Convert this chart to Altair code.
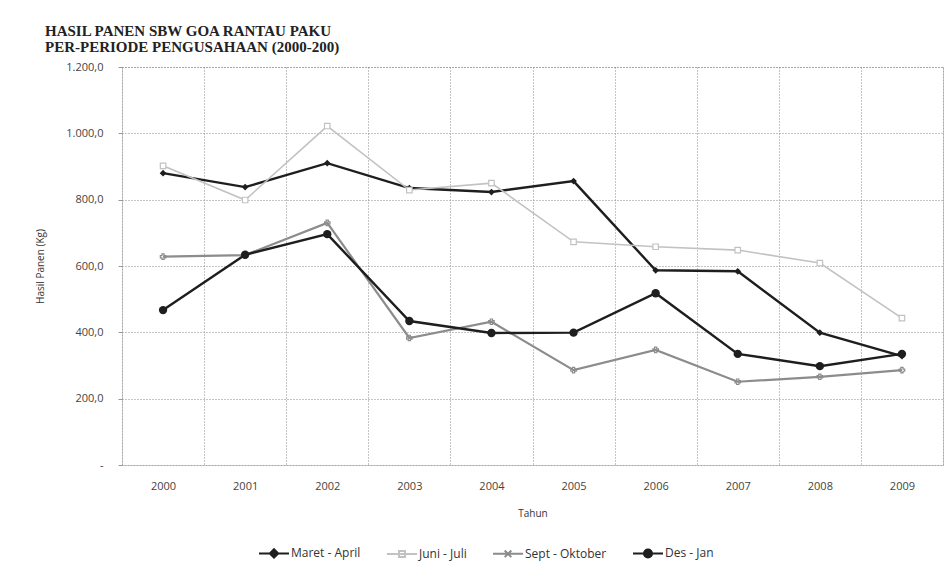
import altair as alt
import pandas as pd

years = ["2000", "2001", "2002", "2003", "2004", "2005", "2006", "2007", "2008", "2009"]
series_names = ["Maret - April", "Juni - Juli", "Sept - Oktober", "Des - Jan"]
maret_april = [880, 838, 910, 835, 823, 856, 587, 584, 399, 328]
juni_juli = [902, 799, 1022, 829, 850, 673, 658, 648, 609, 443]
sept_oktober = [628, 633, 730, 383, 432, 286, 347, 251, 266, 286]
des_jan = [467, 634, 696, 434, 398, 399, 518, 335, 298, 335]
y_ticks = [0, 200, 400, 600, 800, 1000, 1200]

series_values = [maret_april, juni_juli, sept_oktober, des_jan]
rows = []
for name, vals in zip(series_names, series_values):
    for yr, v in zip(years, vals):
        rows.append({"Tahun": yr, "Periode": name, "Nilai": v})
df = pd.DataFrame(rows)

# styles
styles = {
    "Maret - April": dict(color="#1e1e1e", width=2.4, shape="diamond", size=45, filled=True, fill="#1e1e1e",
                          legend_path="M-1,0H1M0,-0.28L0.28,0L0,0.28L-0.28,0Z"),
    "Juni - Juli": dict(color="#c2c2c2", width=1.6, shape="square", size=30, filled=False, fill="#ffffff",
                        legend_path="M-1,0H1M-0.2,-0.2H0.2V0.2H-0.2Z"),
    "Sept - Oktober": dict(color="#8c8c8c", width=2.2, shape="cross", size=30, filled=False, fill="transparent",
                           legend_path="M-1,0H1M-0.22,-0.22L0.22,0.22M-0.22,0.22L0.22,-0.22"),
    "Des - Jan": dict(color="#1e1e1e", width=2.4, shape="circle", size=70, filled=True, fill="#1e1e1e",
                      legend_path="M-1,0H1M-0.27,0A0.27,0.27 0 1,0 0.27,0A0.27,0.27 0 1,0 -0.27,0Z"),
}

FONT = "Open Sans"
grid_color = "#8a8a8a"

X = alt.X(
    "Tahun:O",
    sort=years,
    scale=alt.Scale(type="band", paddingInner=0, paddingOuter=0),
    axis=alt.Axis(
        title="Tahun", labelAngle=0, tickBand="extent", grid=True, gridColor=grid_color,
        gridDash=[1, 2], gridWidth=1, domain=False, ticks=False, labelPadding=15,
        titlePadding=17, labelFontSize=11, titleFontSize=10, titleFontWeight="normal",
        labelColor="#444", titleColor="#333", labelFont=FONT, titleFont=FONT,
    ),
)
Y = alt.Y(
    "Nilai:Q",
    scale=alt.Scale(domain=[0, 1200]),
    axis=alt.Axis(
        values=y_ticks, title="Hasil Panen (Kg)", grid=True, gridColor=grid_color, gridDash=[1, 2],
        domain=False, tickSize=4, tickColor="#999", labelPadding=15, titlePadding=20,
        labelFontSize=11, titleFontSize=10, titleFontWeight="normal", labelColor="#444",
        titleColor="#333", labelFont=FONT, titleFont=FONT,
        labelExpr="datum.value == 0 ? '-' : replace(replace(replace(format(datum.value, ',.1f'), ',', '#'), '.', ','), '#', '.')",
    ),
)

layers = []
for name in series_names:
    s = styles[name]
    base = alt.Chart(df).transform_filter(alt.datum.Periode == name)
    layers.append(base.mark_line(color=s["color"], strokeWidth=s["width"]).encode(x=X, y=Y))
    if s["filled"]:
        pm = base.mark_point(shape=s["shape"], size=s["size"], filled=True, color=s["color"], opacity=1)
    else:
        pm = base.mark_point(shape=s["shape"], size=s["size"], filled=False, color=s["color"],
                             fill=s["fill"], strokeWidth=1.2, opacity=1)
    layers.append(pm.encode(x=X, y=Y))

leg = alt.Legend(
    title=None, orient="none", legendX=136, legendY=470, direction="horizontal",
    symbolSize=900, symbolStrokeWidth=2, columnPadding=22, labelFontSize=12,
    labelColor="#333", labelFont=FONT, labelOffset=1,
)
legend_layer = alt.Chart(df).transform_filter("false").mark_point(opacity=1).encode(
    x=X, y=Y,
    stroke=alt.Stroke("Periode:N", scale=alt.Scale(domain=series_names,
                      range=[styles[n]["color"] for n in series_names]), legend=leg),
    fill=alt.Fill("Periode:N", scale=alt.Scale(domain=series_names,
                  range=[styles[n]["fill"] for n in series_names]), legend=leg),
    shape=alt.Shape("Periode:N", scale=alt.Scale(domain=series_names,
                    range=[styles[n]["legend_path"] for n in series_names]), legend=leg),
)
layers.append(legend_layer)

chart = alt.layer(*layers).properties(
    width=821,
    height=398,
    title=alt.Title(
        text=["HASIL PANEN SBW GOA RANTAU PAKU", "PER-PERIODE PENGUSAHAAN (2000-200)"],
        anchor="start", frame="group", dx=-77, offset=6, fontSize=15, font="Liberation Serif",
        fontWeight="bold", color="#222", lineHeight=16,
    ),
    autosize=alt.AutoSizeParams(type="none"),
    padding={"left": 122, "top": 67, "right": 5, "bottom": 106},
    background="white",
).configure_view(stroke="#888", strokeDash=[1, 2], strokeWidth=1)

chart.save("out.html", embed_options={"renderer": "svg", "actions": False})
